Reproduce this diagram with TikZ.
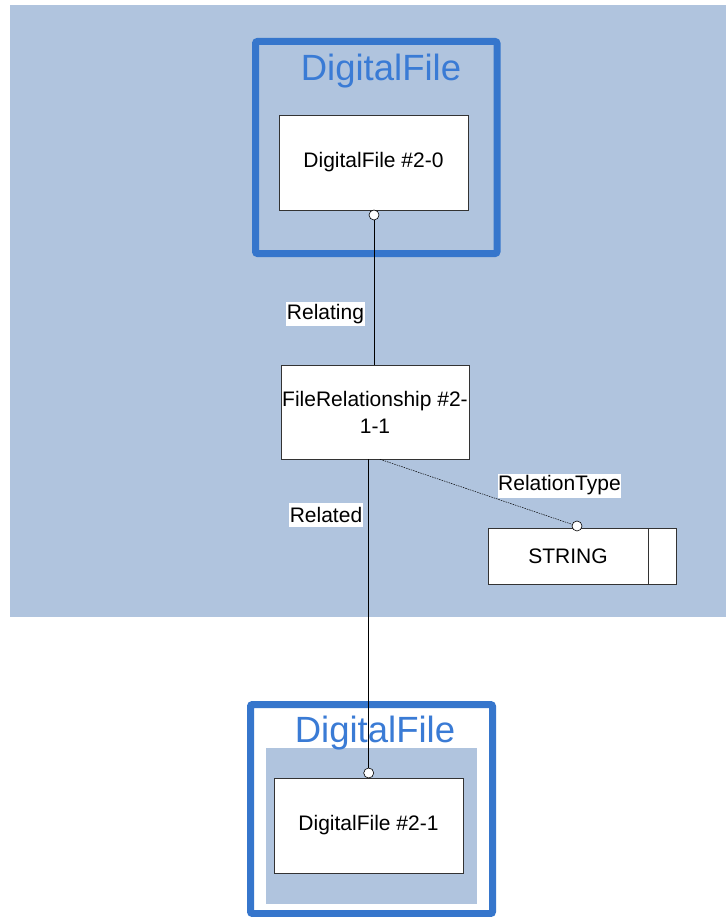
\documentclass[tikz,border=0pt]{standalone}
\usepackage{fontspec}
\setmainfont{Liberation Sans}
\begin{document}
\begin{tikzpicture}[x=1pt,y=-1pt,
  bgblue/.style={fill=bgc,draw=none},
  frame/.style={draw=framec,line width=7pt,rounded corners=2pt},
  entity/.style={draw=black!80,fill=white,line width=0.6pt,inner sep=0pt,font=\fontsize{21}{27}\selectfont,align=center},
  title/.style={text=titlec,font=\fontsize{36.5}{40}\selectfont,inner sep=0pt},
  lbl/.style={fill=white,inner xsep=0.5pt,inner ysep=0pt,minimum height=24pt,font=\fontsize{21}{27}\selectfont},
  endc/.style={circle,draw=black,fill=white,line width=0.6pt,inner sep=0pt,minimum size=10pt},
  conn/.style={draw=black,line width=0.6pt},
  dconn/.style={draw=black,line width=0.5pt,dash pattern=on 1.5pt off 1pt}]
\definecolor{bgc}{HTML}{B0C4DE}
\definecolor{framec}{HTML}{3676CC}
\definecolor{titlec}{HTML}{3A7BD5}
\useasboundingbox (0,0) rectangle (726,917);
\fill[white] (0,0) rectangle (726,917);
% background panel
\path[bgblue] (10,5) rectangle (726,617);
% top DigitalFile frame
\draw[frame] (255.5,41.5) rectangle (497,253.5);
\node[title] (t1) at (381,71) {DigitalFile};
\node[entity,minimum width=189pt,minimum height=95pt] (d0) at (373.5,162.5) {DigitalFile \#2-0};
% FileRelationship
\node[entity,minimum width=188pt,minimum height=94pt] (fr) at (375,412) {FileRelationship \#2-\\1-1};
% STRING
\node[entity,minimum width=188pt,minimum height=56pt] (str) at (582,556) {};
\draw[line width=0.6pt,draw=black!80] (648,528) -- (648,584);
\node[font=\fontsize{21}{27}\selectfont,inner sep=0pt] (strt) at (568,556) {STRING};
% bottom DigitalFile frame
\draw[frame,fill=white] (250.5,704.5) rectangle (492.5,913.5);
\path[bgblue] (266,748) rectangle (477,904);
\node[title] (t2) at (375,733.5) {DigitalFile};
\node[entity,minimum width=189pt,minimum height=95pt] (d1) at (368.5,825.5) {DigitalFile \#2-1};
% end circles
\node[endc] (c1) at (374,215) {};
\node[endc] (c2) at (368.7,773) {};
\node[endc] (c3) at (577,526) {};
% connectors
\draw[conn] (c1.south) -- (c1.south |- fr.north);
\draw[conn] (c2.north |- fr.south) -- (c2.north);
\draw[dconn] ([xshift=5pt]fr.south) -- (c3);
% labels
\node[lbl] (l1) at (325.5,314) {Relating};
\node[lbl] (l2) at (326,515) {Related};
\node[lbl] (l3) at (559.5,485.5) {RelationType};
\end{tikzpicture}
\end{document}
